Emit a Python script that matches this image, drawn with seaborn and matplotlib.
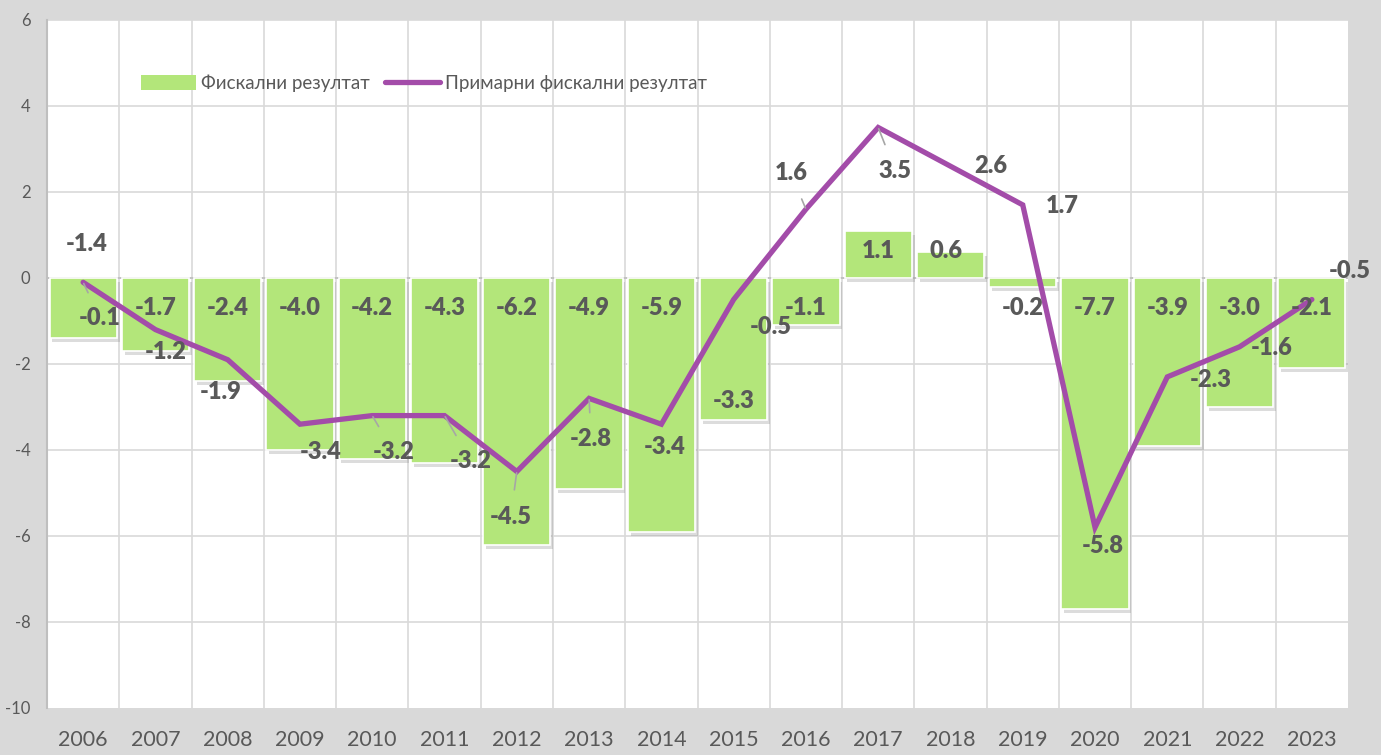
import matplotlib
matplotlib.use('Agg')
import matplotlib.pyplot as plt
import matplotlib.patheffects as pe
from matplotlib.patches import Patch
from matplotlib.lines import Line2D
import numpy as np
import pandas as pd
import seaborn as sns

years = [str(y) for y in range(2006, 2024)]
fiscal = [-1.4, -1.7, -2.4, -4.0, -4.2, -4.3, -6.2, -4.9, -5.9, -3.3,
          -1.1, 1.1, 0.6, -0.2, -7.7, -3.9, -3.0, -2.1]
primary = [-0.1, -1.2, -1.9, -3.4, -3.2, -3.2, -4.5, -2.8, -3.4, -0.5,
           1.6, 3.5, 2.6, 1.7, -5.8, -2.3, -1.6, -0.5]
fiscal_name = 'Фискални резултат'
primary_name = 'Примарни фискални резултат'

# label placement (pixels), bar labels measured from zero
bar_lbl_off = [(4, 34)] + [(0, -30)] * 8 + [(0, -123), (0, -30), (0, 27), (-4, 27)] + [(0, -30)] * 5
line_lbl_off = [(17, -36), (10, -22), (-7, -32), (21, -28), (21, -36), (26, -45),
                (-6, -45), (2, -41), (3, -23), (37, -28), (-15, 36), (17, -43),
                (40, 0), (39, -1), (8, -19), (43, -3), (32, -1), (38, 28)]
leader = [1, 0, 0, 0, 1, 1, 1, 1, 0, 0, 1, 1, 0, 0, 0, 0, 0, 0]

GREEN = '#b3e67a'
PURPLE = '#a34ca9'
TXT = '#595959'
GRID = '#d9d9d9'

df = pd.DataFrame({'year': years, 'fiscal': fiscal, 'primary': primary})

sns.set_style('white')
plt.rcParams['font.family'] = ['Lato', 'DejaVu Sans']
plt.rcParams['axes.unicode_minus'] = False

fig = plt.figure(figsize=(13.81, 7.55), dpi=100, facecolor='#d9d9d9')
ax = fig.add_axes([47 / 1381, 47 / 755, 1301 / 1381, 688 / 755])
ax.set_facecolor('white')

sns.barplot(data=df, x='year', y='fiscal', color=GREEN, saturation=1,
            width=0.93, edgecolor='white', linewidth=1.2, ax=ax, zorder=3)
for p in ax.patches:
    p.set_path_effects([pe.SimplePatchShadow(offset=(2, -3), shadow_rgbFace='#8c8c8c', alpha=0.3),
                        pe.Normal()])

sns.lineplot(x=np.arange(len(years)), y=df['primary'], color=PURPLE, linewidth=3.8,
             ax=ax, zorder=5, solid_capstyle='round', solid_joinstyle='miter')

ax.set_ylim(-10, 6)
ax.set_xlim(-0.5, len(years) - 0.5)
ax.set_yticks(range(-10, 7, 2))
ax.set_xticks(range(len(years)))
ax.set_xticklabels(years)
ax.set_xlabel('')
ax.set_ylabel('')

# grid: horizontal at ticks, vertical at category boundaries
for yv in range(-8, 7, 2):
    ax.axhline(yv, color=GRID, lw=1.2, zorder=1)
for xv in np.arange(0.5, len(years) - 0.5, 1):
    ax.axvline(xv, color=GRID, lw=1.2, zorder=1)
ax.axhline(0, color='#bfbfbf', lw=1.3, zorder=2)

for s in ['top', 'right', 'bottom']:
    ax.spines[s].set_visible(False)
ax.spines['left'].set_color('#bfbfbf')
ax.spines['left'].set_linewidth(1.5)

ax.tick_params(axis='y', length=0, labelsize=12, labelcolor=TXT, pad=12)
ax.tick_params(axis='x', length=0, labelsize=15.5, labelcolor=TXT, pad=16)

for i, v in enumerate(fiscal):
    dx, dy = bar_lbl_off[i]
    ax.annotate(f'{v:.1f}', (i, 0), xytext=(dx, dy), textcoords='offset pixels',
                ha='center', va='center', fontsize=17, fontweight='heavy', color=TXT, zorder=6)

for i, v in enumerate(primary):
    dx, dy = line_lbl_off[i]
    arrow = dict(arrowstyle='-', color='#a6a6a6', lw=1.2, shrinkA=9, shrinkB=1) if leader[i] else None
    ax.annotate(f'{v:.1f}', (i, v), xytext=(dx, dy), textcoords='offset pixels',
                ha='center', va='center', fontsize=17, fontweight='heavy', color=TXT,
                arrowprops=arrow, zorder=7)

handles = [Patch(facecolor=GREEN, edgecolor='none'),
           Line2D([0], [0], color=PURPLE, lw=3.8, solid_capstyle='round')]
leg = ax.legend(handles, [fiscal_name, primary_name], loc='center', bbox_to_anchor=(0.29, 0.908),
                ncol=2, frameon=False, fontsize=13.5, labelcolor=TXT, handlelength=2.9,
                handleheight=0.9, handletextpad=0.3, columnspacing=0.8)

fig.savefig('out.png', dpi=100, facecolor=fig.get_facecolor())
